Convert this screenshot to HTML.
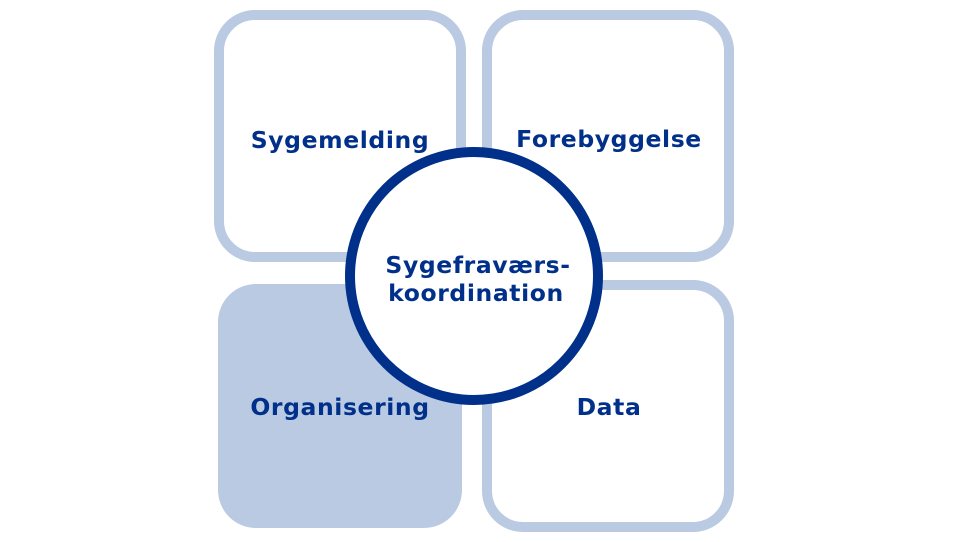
<!DOCTYPE html>
<html><head><meta charset="utf-8"><style>
html,body{margin:0;padding:0;background:#fff;}
</style></head><body>
<svg width="955" height="537" viewBox="0 0 955 537" xmlns="http://www.w3.org/2000/svg">
<g fill="#fff" stroke="#b9cae2" stroke-width="10">
<rect x="219" y="15" width="242" height="242" rx="36"/>
<rect x="487" y="15" width="242" height="242" rx="36"/>
<rect x="487" y="285" width="242" height="242" rx="36"/>
</g>
<rect x="218" y="284" width="244" height="244" rx="38" fill="#b9cae2"/>
<circle cx="474" cy="276" r="124" fill="#fff" stroke="#00308a" stroke-width="10"/>
<g font-family="DejaVu Sans, Liberation Sans, sans-serif" font-weight="bold" font-size="23.5" fill="#00308a" text-anchor="middle" letter-spacing="0.6">
<text x="340" y="148">Sygemelding</text>
<text x="609" y="147">Forebyggelse</text>
<text x="478" y="273">Sygefraværs-</text>
<text x="476" y="301">koordination</text>
<text x="340" y="415">Organisering</text>
<text x="609" y="415">Data</text>
</g>
</svg>
</body></html>
